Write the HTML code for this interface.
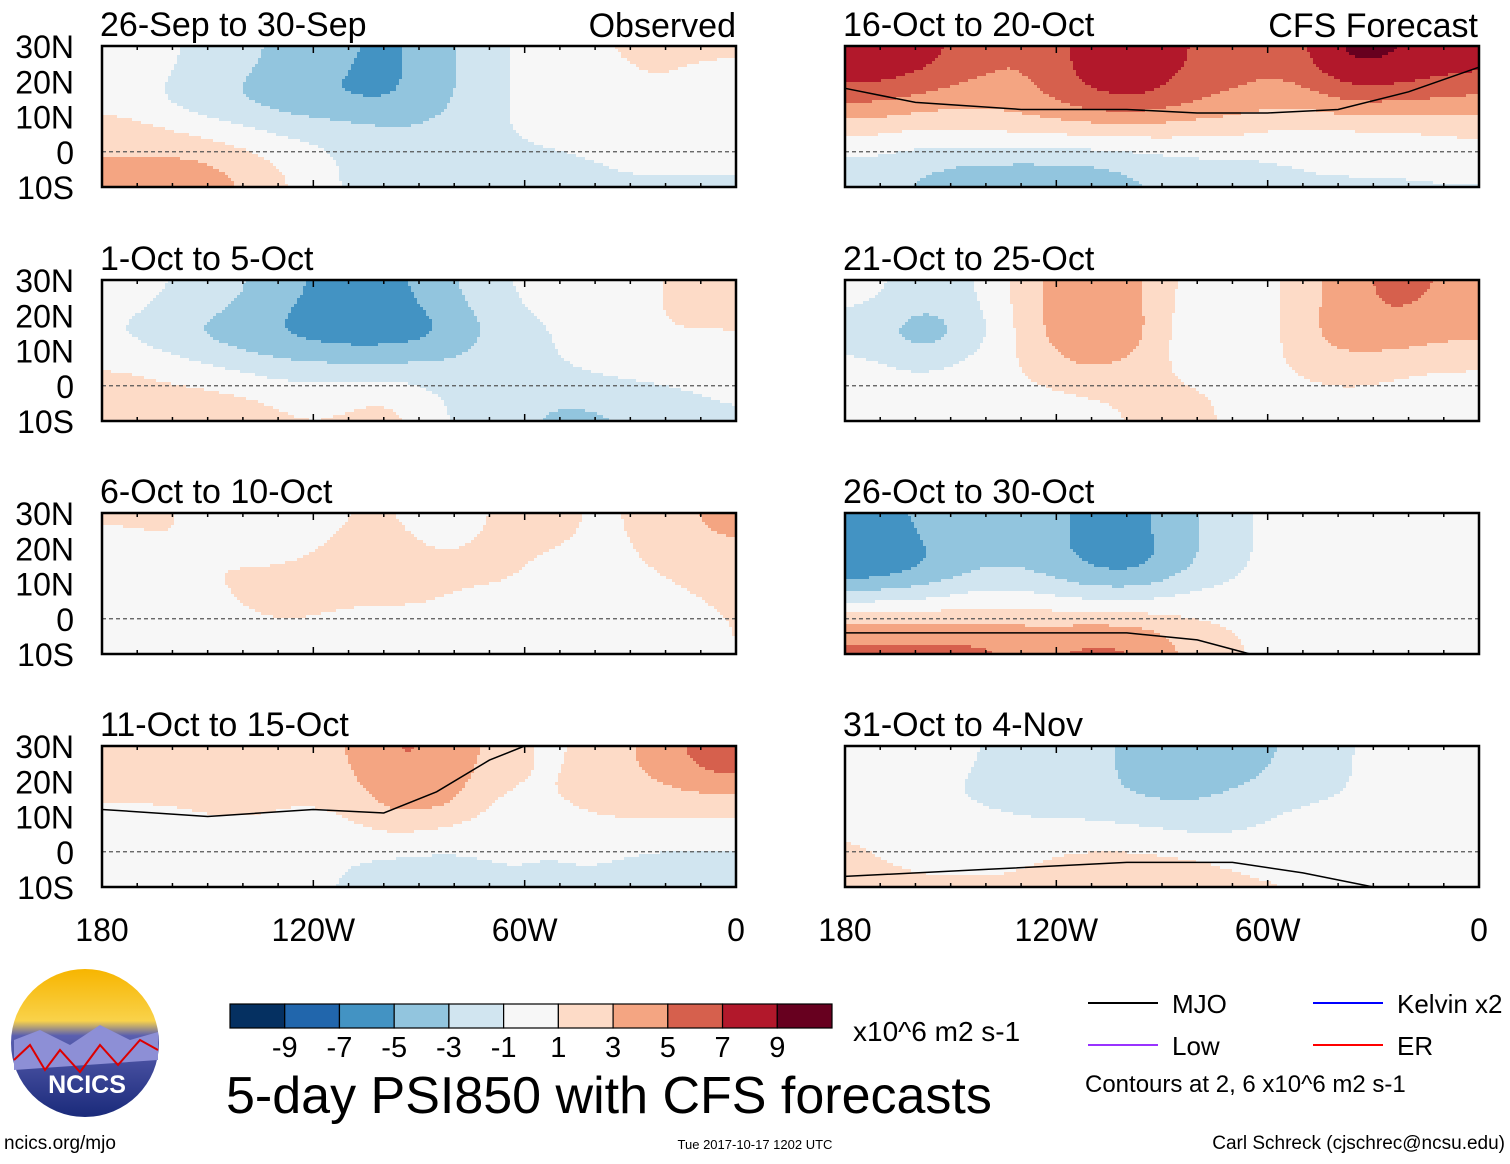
<!DOCTYPE html>
<html><head><meta charset="utf-8">
<style>
body{margin:0;background:#fff;width:1510px;height:1159px;overflow:hidden;font-family:"Liberation Sans",sans-serif}
svg text{font-family:"Liberation Sans",sans-serif}
</style></head>
<body>
<svg id="chart" width="1510" height="1159" xmlns="http://www.w3.org/2000/svg">
<defs>
<linearGradient id="sky" x1="0" y1="0" x2="0" y2="1"><stop offset="0" stop-color="#f7b500"/><stop offset="0.35" stop-color="#f9d24a"/><stop offset="0.45" stop-color="#5a5fb0"/><stop offset="1" stop-color="#1a2a7a"/></linearGradient>
</defs>
<g id="panels"></g>
<g id="static"></g>
</svg>
<script>
const lons = [172.5,157.5,142.5,127.5,112.5,97.5,82.5,67.5,52.5,37.5,22.5,7.5]; // degrees W (cell centres)
const lats = [25,15,5,-5];
const panelTitles = ["26-Sep to 30-Sep","1-Oct to 5-Oct","6-Oct to 10-Oct","11-Oct to 15-Oct","16-Oct to 20-Oct","21-Oct to 25-Oct","26-Oct to 30-Oct","31-Oct to 4-Nov"];
const p1 = [[1,-1,-2,-3,-4,-5,-3,-1,0,1,1,1],[0,-2,-3,-4,-5,-5,-3,-1,0,0,1,0],[2,1,0,-1,-1,-2,-2,-1,0,0,0,0],[3,4,3,1,-1,-2,-1,-2,-2,-1,-1,-1]];
const p2 = [[0,-1,-2,-4,-5,-5,-3,-1,0,0,1,1],[-1,-3,-4,-5,-6,-6,-5,-2,-1,0,1,1],[1,0,-1,-2,-2,-2,-2,-1,-1,0,0,0],[2,2,2,1,1,2,-1,-2,-3,-3,-2,-1]];
const p3 = [[1,1,0,-1,1,1,0,1,2,0,2,3],[0,1,1,1,2,2,1,2,0,0,1,2],[0,0,1,2,1,1,1,0,0,0,0,1],[0,-1,0,0,0,0,0,0,0,0,-1,1]];
const p4 = [[2,2,3,2,2,5,4,2,0,2,3,6],[1,1,2,1,1,4,4,0,1,2,2,2],[0,0,0,0,0,1,0,0,-1,0,0,0],[0,0,0,0,-1,-2,-2,-1,-1,-1,-2,-2]];
const p5 = [[8,7,5,4,7,8,6,5,5,9,8,7],[5,4,3,4,6,7,5,4,3,5,5,4],[1,0,1,1,1,1,1,1,0,0,0,1],[-2,-3,-4,-4,-4,-3,-2,-2,-1,-1,-1,-1]];
const p6 = [[0,-2,-1,2,5,3,0,0,1,4,5,4],[-2,-5,-2,2,5,4,-1,-2,2,4,4,3],[0,-1,0,1,3,2,0,0,1,2,1,1],[0,0,1,0,0,1,2,0,0,0,0,-1]];
const p7 = [[-5,-4,-3,-3,-5,-5,-3,-1,0,0,0,1],[-7,-5,-3,-3,-5,-6,-3,-1,0,0,0,0],[-1,-1,0,0,-1,-1,0,0,0,0,0,0],[5,5,5,4,5,5,2,1,0,0,0,0]];
const p8 = [[0,0,-1,-1,-2,-3,-4,-4,-2,-1,0,0],[0,-1,-1,-2,-2,-3,-3,-2,-1,-1,0,0],[1,0,0,0,0,0,-1,-1,0,0,0,0],[1,1,1,1,2,2,2,1,1,0,0,0]];
const panelData = [p1,p2,p3,p4,p5,p6,p7,p8];
const mjo4 = [[180,12],[150,10],[120,12],[100,11],[85,17],[70,26],[60,30]];
const mjo5 = [[180,18],[160,14],[130,12],[100,12],[80,11],[60,11],[40,12],[20,17],[0,24]];
const mjo8 = [[180,-7],[140,-5],[100,-3],[70,-3],[50,-6],[30,-10]];
const mjo7 = [[180,-4],[140,-4],[100,-4],[80,-6],[65,-10]];
const mjoLines = {3:mjo4,4:mjo5,6:mjo7,7:mjo8};
const levels = [-9,-7,-5,-3,-1,1,3,5,7,9];
const colors = ["#053061","#2166ac","#4393c3","#92c5de","#d1e5f0","#f7f7f7","#fddbc7","#f4a582","#d6604d","#b2182b","#67001f"];
const latTicks = ["30N","20N","10N","0","10S"];
const lonTicks = ["180","120W","60W","0"];

const NS="http://www.w3.org/2000/svg";
function mk(tag,attrs,parent){const e=document.createElementNS(NS,tag);for(const k in attrs)e.setAttribute(k,attrs[k]);parent.appendChild(e);return e;}
function colorOf(v){let i=0;while(i<levels.length&&v>levels[i])i++;return colors[i];}
function sample(d,lon,lat){
  let s=0,w=0;
  for(let r=0;r<lats.length;r++)for(let c=0;c<lons.length;c++){
    const dx=(lon-lons[c])/13, dy=(lat-lats[r])/8.5;
    const k=Math.exp(-(dx*dx+dy*dy));
    s+=k*d[r][c]; w+=k;
  }
  return s/w*1.15;
}
const PW=634, PH=141;
const xs=[102,845], ys=[46,280,513,746];
const panelsG=document.getElementById('panels');
const STEP=3;
for(let p=0;p<8;p++){
  const x0=xs[p<4?0:1], y0=ys[p%4];
  const xS=lon=>x0+(180-lon)/180*PW;
  const yS=lat=>y0+(30-lat)/40*PH;
  const g=mk('g',{},panelsG);
  
  
  const d=panelData[p];
  mk('rect',{x:x0,y:y0,width:PW,height:PH,fill:'#f7f7f7'},g);
  const fg=mk('g',{'shape-rendering':'crispEdges'},g);
  for(let py=0;py<PH;py+=STEP){
    const lat=30-(py+STEP/2)/PH*40;
    let runStart=0, runCol=null;
    const flush=(end)=>{
      const r=mk('rect',{x:x0+runStart,y:y0+py,width:end-runStart,height:Math.min(STEP,PH-py),fill:runCol},fg);
      
      
    };
    for(let px=0;px<PW;px+=STEP){
      const col = colorOf(sample(d,180-(px+STEP/2)/PW*180,lat));
      if(col!==runCol){
        if(runCol!==null) flush(px);
        runStart=px; runCol=col;
      }
    }
    flush(PW);
  }
  mk('line',{x1:x0,x2:x0+PW,y1:yS(0),y2:yS(0),stroke:'#555','stroke-width':1.2,'stroke-dasharray':'4,3'},g);
  if(mjoLines[p]){
    const pts=mjoLines[p].map(q=>xS(q[0])+','+Math.max(y0,Math.min(y0+PH,yS(q[1])))).join(' ');
    const pl=mk('polyline',{points:pts,fill:'none',stroke:'#000','stroke-width':1.5},g);
    
    
  }
  const fr=mk('rect',{x:x0,y:y0,width:PW,height:PH,fill:'none',stroke:'#000','stroke-width':2.5},g);
  
  
  for(let lon=180;lon>=0;lon-=10){mk('line',{x1:xS(lon),x2:xS(lon),y1:y0,y2:y0+(lon%60==0?7:4),stroke:'#000','stroke-width':1.5},g);mk('line',{x1:xS(lon),x2:xS(lon),y1:y0+PH,y2:y0+PH-(lon%60==0?7:4),stroke:'#000','stroke-width':1.5},g);}
  const t=mk('text',{x:x0-2,y:y0-10,'font-size':34},g);t.textContent=panelTitles[p];
  
  if(p<4){
    latTicks.forEach((lt,i)=>{const tt=mk('text',{x:74,y:y0+i*PH/4+12,'font-size':32,'text-anchor':'end'},g);tt.textContent=lt;
      });
  }
}
const st=document.getElementById('static');
function txt(s,a,name){const t=mk('text',a,st);t.textContent=s;return t;}
txt("Observed",{x:736,y:37,'font-size':34,'text-anchor':'end'},'observed-label');
txt("CFS Forecast",{x:1478,y:37,'font-size':34,'text-anchor':'end'},'cfs-forecast-label');
[0,1].forEach(k=>lonTicks.forEach((l,i)=>txt(l,{x:xs[k]+i*PW/3,y:941,'font-size':32,'text-anchor':'middle'},'lon-label')));
const cb=mk('g',{},st);
const cbw=602/11;
colors.forEach((c,i)=>mk('rect',{x:230+i*cbw,y:1004,width:cbw,height:24,fill:c,stroke:'#000','stroke-width':1.2},cb));
levels.forEach((l,i)=>txt(String(l),{x:230+(i+1)*cbw,y:1057,'font-size':29,'text-anchor':'middle'},'colorbar-tick'));
txt("x10^6 m2 s-1",{x:853,y:1041,'font-size':28},'colorbar-units');
txt("5-day PSI850 with CFS forecasts",{x:226,y:1113,'font-size':52},'main-title');
const leg=[["MJO","#000",1088,1003],["Kelvin x2","#0000ff",1313,1003],["Low","#9933ff",1088,1045],["ER","#ff0000",1313,1045]];
leg.forEach(l=>{const ln=mk('line',{x1:l[2],x2:l[2]+70,y1:l[3],y2:l[3],stroke:l[1],'stroke-width':2},st);
  
  txt(l[0],{x:l[2]+84,y:l[3]+10,'font-size':26},'legend-entry');});
txt("Contours at 2, 6 x10^6 m2 s-1",{x:1085,y:1092,'font-size':24},'contour-note');
txt("ncics.org/mjo",{x:4,y:1149,'font-size':19},'url-label');
txt("Tue 2017-10-17 1202 UTC",{x:755,y:1149,'font-size':13,'text-anchor':'middle'},'timestamp');
txt("Carl Schreck (cjschrec@ncsu.edu)",{x:1505,y:1149,'font-size':19,'text-anchor':'end'},'author-credit');
const lg=mk('g',{},st);
mk('circle',{cx:85,cy:1043,r:74,fill:'url(#sky)'},lg);
mk('path',{d:'M14 1040 L40 1030 L70 1045 L100 1025 L130 1040 L158 1032 L158 1060 L14 1070Z',fill:'#8d8fd6'},lg);
mk('path',{d:'M14 1060 L30 1045 L45 1070 L60 1050 L80 1072 L100 1045 L118 1065 L140 1040 L158 1050',fill:'none',stroke:'#d00','stroke-width':2},lg);
const nt=mk('text',{x:87,y:1093,'font-size':25,'font-weight':'bold',fill:'#fff','text-anchor':'middle'},lg);nt.textContent="NCICS";
</script>
</body></html>
